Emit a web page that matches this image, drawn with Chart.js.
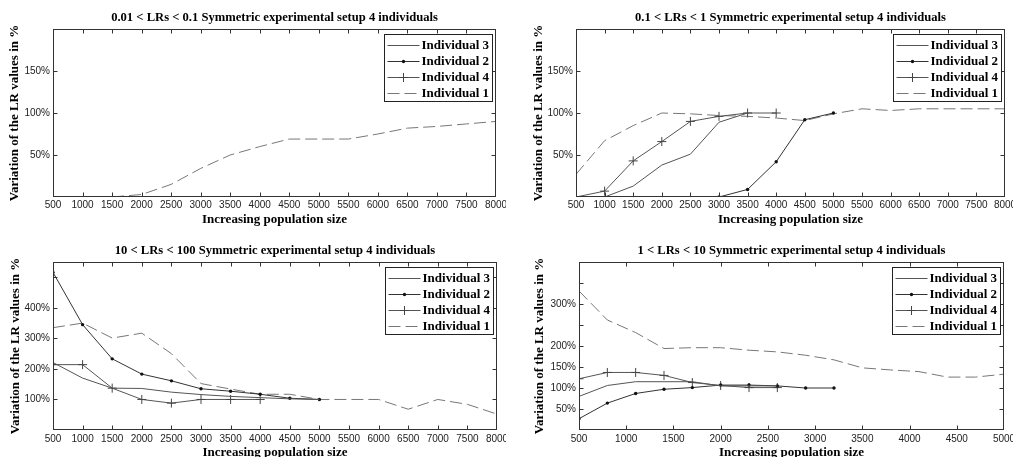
<!DOCTYPE html>
<html>
<head>
<meta charset="utf-8">
<script src="https://cdn.jsdelivr.net/npm/chart.js@4.4.1/dist/chart.umd.min.js"></script>
<style>
  html, body { margin: 0; padding: 0; background: #fff; overflow: hidden; }
  .panel { position: absolute; overflow: hidden; }
</style>
</head>
<body>
<div class="panel" style="left:0;top:0;width:506px;height:228px"><canvas id="c1" width="506" height="228"></canvas></div>
<div class="panel" style="left:506px;top:0;width:507px;height:228px"><canvas id="c2" width="507" height="228"></canvas></div>
<div class="panel" style="left:0;top:228px;width:506px;height:229px"><canvas id="c3" width="506" height="237"></canvas></div>
<div class="panel" style="left:506px;top:228px;width:507px;height:229px"><canvas id="c4" width="507" height="237"></canvas></div>
<script>
// ---- data ----
const seriesNames = ['Individual 3', 'Individual 2', 'Individual 4', 'Individual 1'];

// panel 1: 0.01 < LRs < 0.1
const p1Ind1X = [1500, 2000, 2500, 3000, 3500, 4000, 4500, 5000, 5500, 6000, 6500, 7000, 7500, 8000];
const p1Ind1 = [0, 3, 15, 34, 50, 60, 69, 69, 69, 75, 82, 84, 87, 90];

// panel 2: 0.1 < LRs < 1
const p2Ind3X = [500, 1000, 1500, 2000, 2500, 3000, 3500];
const p2Ind3 = [0, 0, 13, 38, 51, 89, 100];
const p2Ind2X = [3000, 3500, 4000, 4500, 5000];
const p2Ind2 = [0, 9, 42, 92, 100];
const p2Ind4X = [500, 1000, 1500, 2000, 2500, 3000, 3500, 4000];
const p2Ind4 = [0, 7, 43, 66, 90, 96, 100, 100];
const p2Ind1X = [500, 1000, 1500, 2000, 2500, 3000, 3500, 4000, 4500, 5000, 5500, 6000, 6500, 7000, 7500, 8000];
const p2Ind1 = [27, 67, 85, 100, 99, 97, 96, 94, 91, 99, 105, 103, 105, 105, 105, 105];

// panel 3: 10 < LRs < 100
const p3Ind3X = [500, 1000, 1500, 2000, 2500, 3000, 3500, 4000, 4500, 5000];
const p3Ind3 = [221, 170, 137, 136, 124, 116, 110, 106, 102, 100];
const p3Ind2X = [500, 1000, 1500, 2000, 2500, 3000, 3500, 4000, 4500, 5000];
const p3Ind2 = [516, 345, 233, 183, 161, 135, 127, 117, 104, 100];
const p3Ind4X = [500, 1000, 1500, 2000, 2500, 3000, 3500, 4000];
const p3Ind4 = [214, 214, 137, 100, 88, 100, 100, 100];
const p3Ind1X = [500, 1000, 1500, 2000, 2500, 3000, 3500, 4000, 4500, 5000, 5500, 6000, 6500, 7000, 7500, 8000];
const p3Ind1 = [335, 350, 301, 317, 250, 152, 134, 117, 117, 100, 100, 100, 68, 100, 84, 52];

// panel 4: 1 < LRs < 10
const p4Ind3X = [500, 800, 1100, 1400, 1700, 2000, 2300, 2600];
const p4Ind3 = [80, 106, 115, 115, 115, 105, 105, 105];
const p4Ind2X = [500, 800, 1100, 1400, 1700, 2000, 2300, 2600, 2900, 3200];
const p4Ind2 = [27, 64, 87, 97, 101, 107, 107, 105, 100, 100];
const p4Ind4X = [500, 800, 1100, 1400, 1700, 2000, 2300, 2600];
const p4Ind4 = [122, 137, 137, 130, 113, 106, 101, 101];
const p4Ind1X = [500, 800, 1100, 1400, 1700, 2000, 2300, 2600, 2900, 3200, 3500, 3800, 4100, 4400, 4700, 5000];
const p4Ind1 = [331, 262, 232, 194, 196, 196, 190, 186, 178, 167, 148, 143, 139, 126, 126, 133];

// y tick values that carry no label in the original
const p1HiddenY = [0, 200];
const p2HiddenY = [0, 200];
const p3HiddenY = [0, 500, 550];
const p4HiddenY = [0, 250, 350, 400];

// ---- styling ----
const SERIF = "'Liberation Serif', 'Times New Roman', serif";
const SANS = "'Liberation Sans', Arial, sans-serif";
const TITLE_FONT = { family: SERIF, size: 12.6, weight: 'bold' };
const AXIS_FONT = { family: SERIF, size: 13, weight: 'bold' };
const TICK_FONT = { family: SANS, size: 10 };

const pts = (xs, ys) => ys.map((y, i) => ({ x: xs[i], y }));

function datasets(s3, s2, s4, s1) {
  return [
    { label: seriesNames[0], data: s3, borderColor: '#555', borderWidth: 1, pointRadius: 0, marker: null },
    { label: seriesNames[1], data: s2, borderColor: '#333', borderWidth: 1, pointStyle: 'circle',
      pointRadius: 1.7, pointBackgroundColor: '#111', pointBorderWidth: 0, marker: 'dot' },
    { label: seriesNames[2], data: s4, borderColor: '#555', borderWidth: 1, pointStyle: 'cross',
      pointRadius: 4.5, pointBorderColor: '#444', pointBorderWidth: 1, marker: 'plus' },
    { label: seriesNames[3], data: s1, borderColor: '#777', borderWidth: 1, borderDash: [12, 5], pointRadius: 0, marker: null }
  ];
}

// box around the axes, inward ticks, legend in upper right
const matlabFrame = {
  id: 'matlabFrame',
  afterDatasetsDraw(chart) {
    const { ctx, chartArea: a } = chart;
    const xs = chart.scales.x, ys = chart.scales.y;
    ctx.save();
    ctx.strokeStyle = '#333';
    ctx.lineWidth = 1;
    const L = Math.round(a.left) + 0.5, T = Math.round(a.top) + 0.5;
    const R = Math.round(a.right) - 0.5, B = Math.round(a.bottom) - 0.5;
    ctx.strokeRect(L, T, R - L, B - T);
    ctx.beginPath();
    xs.ticks.forEach(t => {
      const px = Math.round(xs.getPixelForValue(t.value)) + 0.5;
      if (px <= L + 1 || px >= R - 1) return;
      ctx.moveTo(px, B); ctx.lineTo(px, B - 4);
      ctx.moveTo(px, T); ctx.lineTo(px, T + 4);
    });
    ys.ticks.forEach(t => {
      const py = Math.round(ys.getPixelForValue(t.value)) + 0.5;
      if (py <= T + 1 || py >= B - 1) return;
      ctx.moveTo(L, py); ctx.lineTo(L + 4, py);
      ctx.moveTo(R, py); ctx.lineTo(R - 4, py);
    });
    ctx.stroke();

    // legend
    const w = 108, h = 67;
    const lx = Math.round(a.right - 4 - w) + 0.5, ly = Math.round(a.top + 5) + 0.5;
    ctx.fillStyle = '#fff';
    ctx.fillRect(lx, ly, w, h);
    ctx.strokeStyle = '#222';
    ctx.strokeRect(lx, ly, w, h);
    ctx.font = 'bold 13px ' + SERIF;
    ctx.textBaseline = 'middle';
    ctx.textAlign = 'left';
    chart.data.datasets.forEach((d, i) => {
      const y = Math.round(ly + 10 + i * 16) + 0.5;
      ctx.strokeStyle = d.borderColor;
      ctx.setLineDash(d.borderDash || []);
      ctx.beginPath();
      ctx.moveTo(lx + 3, y); ctx.lineTo(lx + 35, y);
      ctx.stroke();
      ctx.setLineDash([]);
      const mx = lx + 19;
      if (d.marker === 'dot') {
        ctx.fillStyle = '#111';
        ctx.beginPath(); ctx.arc(mx, y, 1.7, 0, Math.PI * 2); ctx.fill();
      } else if (d.marker === 'plus') {
        ctx.strokeStyle = '#444';
        ctx.beginPath();
        ctx.moveTo(mx - 4.5, y); ctx.lineTo(mx + 4.5, y);
        ctx.moveTo(mx, y - 4.5); ctx.lineTo(mx, y + 4.5);
        ctx.stroke();
      }
      ctx.fillStyle = '#000';
      ctx.fillText(d.label, lx + 37, y + 0.5);
    });
    ctx.restore();
  }
};

function makeChart(id, p) {
  return new Chart(document.getElementById(id), {
    type: 'line',
    data: { datasets: p.datasets },
    plugins: [matlabFrame],
    options: {
      responsive: false,
      animation: false,
      layout: { padding: { left: 0, top: 0, right: p.padRight, bottom: 0 } },
      elements: { line: { tension: 0 } },
      plugins: {
        legend: { display: false },
        tooltip: { enabled: false },
        title: {
          display: true, fullSize: false, text: p.title, color: '#000', font: TITLE_FONT,
          padding: { top: p.titleTop, bottom: p.titleBottom }
        }
      },
      scales: {
        x: {
          type: 'linear', min: p.xMin, max: p.xMax,
          grid: { display: false, drawTicks: false },
          border: { display: false },
          ticks: { stepSize: 500, padding: p.xTickPad, color: '#222', font: TICK_FONT, maxRotation: 0, autoSkip: false,
                   callback: v => String(v) },
          title: { display: true, text: 'Increasing population size', color: '#000', font: AXIS_FONT,
                   padding: { top: 0, bottom: p.xTitleBottom } },
          afterFit: s => { s.height = p.xHeight; s.paddingLeft = 0; s.paddingRight = 0; }
        },
        y: {
          type: 'linear', min: 0, max: p.yMax,
          grid: { display: false, drawTicks: false },
          border: { display: false },
          ticks: { stepSize: p.yStep, padding: 3, color: '#222', font: TICK_FONT, autoSkip: false,
                   callback: v => p.hidden.includes(v) ? '' : v + '%' },
          title: { display: true, text: 'Variation of the LR values in %', color: '#000', font: AXIS_FONT,
                   padding: { top: p.yTitleTop, bottom: 0 } },
          afterFit: s => { s.width = p.yWidth; s.paddingTop = 0; s.paddingBottom = 0; }
        }
      }
    }
  });
}

makeChart('c1', {
  title: '0.01 < LRs < 0.1 Symmetric experimental setup 4 individuals',
  datasets: datasets([], [], [], pts(p1Ind1X, p1Ind1)),
  xMin: 500, xMax: 8000, yMax: 200, yStep: 50, hidden: p1HiddenY,
  padRight: 10, titleTop: 10.5, titleBottom: 3.4, xHeight: 31, xTickPad: 2.5, xTitleBottom: 0.5, yWidth: 53, yTitleTop: 6.5
});
makeChart('c2', {
  title: '0.1 < LRs < 1 Symmetric experimental setup 4 individuals',
  datasets: datasets(pts(p2Ind3X, p2Ind3), pts(p2Ind2X, p2Ind2), pts(p2Ind4X, p2Ind4), pts(p2Ind1X, p2Ind1)),
  xMin: 500, xMax: 8000, yMax: 200, yStep: 50, hidden: p2HiddenY,
  padRight: 8, titleTop: 10.5, titleBottom: 3.4, xHeight: 31, xTickPad: 2.5, xTitleBottom: 0.5, yWidth: 70, yTitleTop: 25
});
makeChart('c3', {
  title: '10 < LRs < 100 Symmetric experimental setup 4 individuals',
  datasets: datasets(pts(p3Ind3X, p3Ind3), pts(p3Ind2X, p3Ind2), pts(p3Ind4X, p3Ind4), pts(p3Ind1X, p3Ind1)),
  xMin: 500, xMax: 8000, yMax: 550, yStep: 100, hidden: p3HiddenY,
  padRight: 9, titleTop: 15.5, titleBottom: 3.4, xHeight: 35, xTickPad: 3, xTitleBottom: 4.2, yWidth: 53, yTitleTop: 7.5
});
makeChart('c4', {
  title: '1 < LRs < 10 Symmetric experimental setup 4 individuals',
  datasets: datasets(pts(p4Ind3X, p4Ind3), pts(p4Ind2X, p4Ind2), pts(p4Ind4X, p4Ind4), pts(p4Ind1X, p4Ind1)),
  xMin: 500, xMax: 5000, yMax: 400, yStep: 50, hidden: p4HiddenY,
  padRight: 9, titleTop: 15.5, titleBottom: 3.4, xHeight: 35, xTickPad: 3, xTitleBottom: 4.2, yWidth: 73, yTitleTop: 26
});
</script>
</body>
</html>
